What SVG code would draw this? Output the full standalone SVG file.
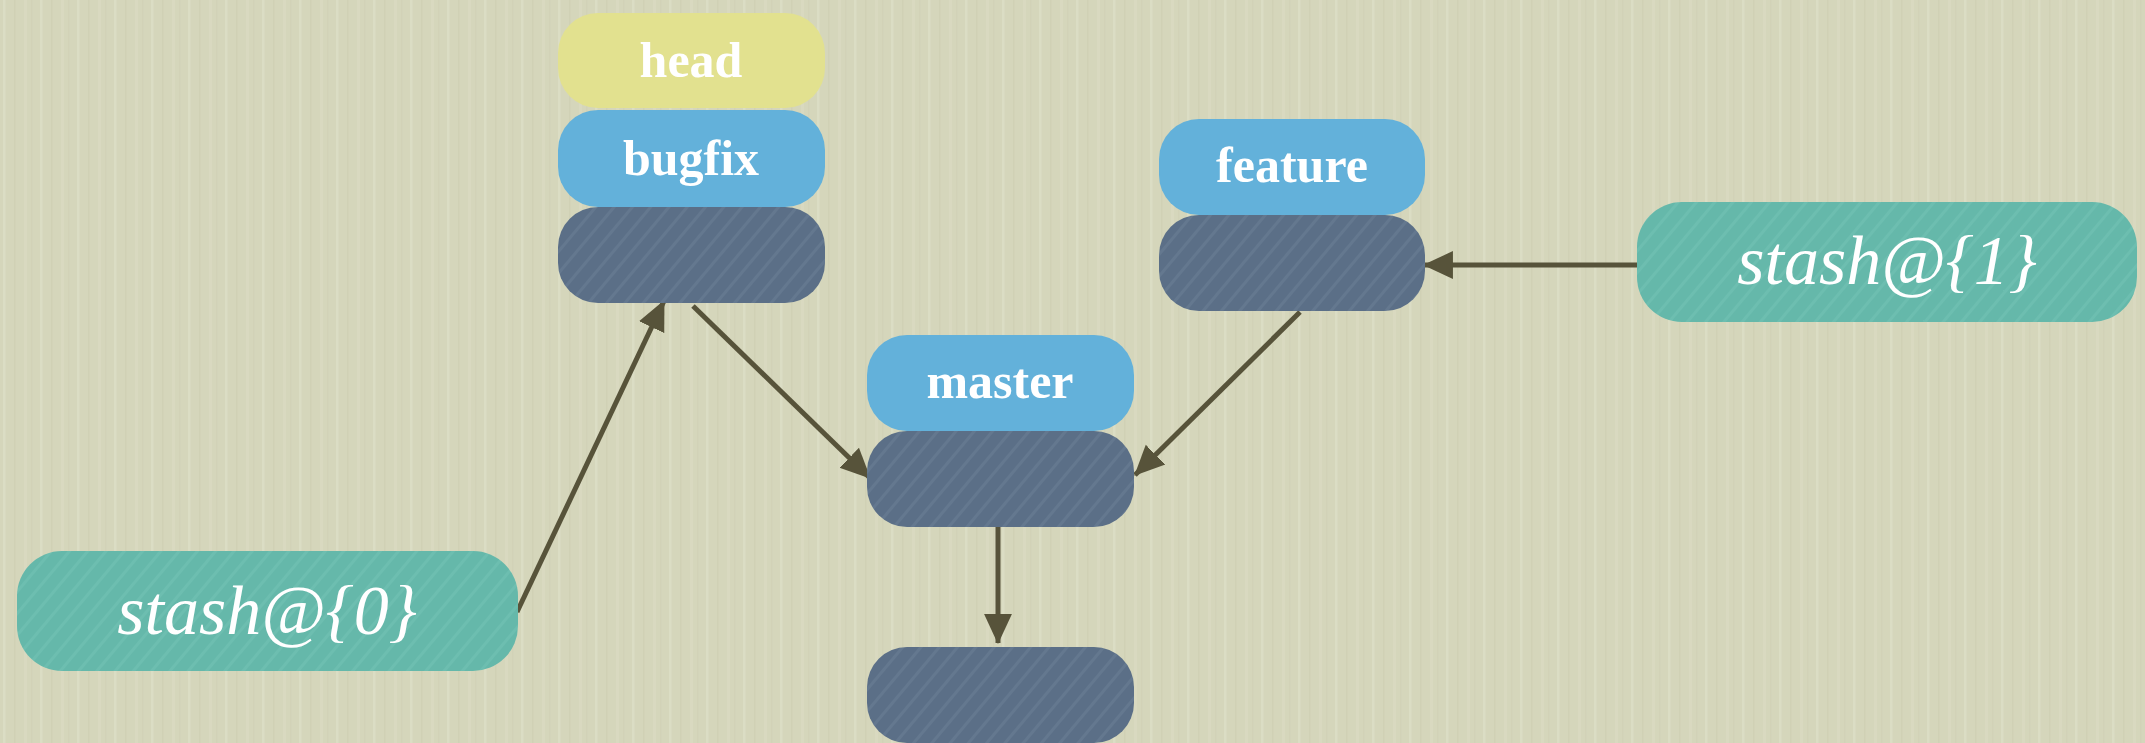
<svg xmlns="http://www.w3.org/2000/svg" width="2145" height="743" viewBox="0 0 2145 743">
<defs>
<pattern id="bgtex" width="37" height="743" patternUnits="userSpaceOnUse">
<rect width="37" height="743" fill="#d5d6bb"/>
<rect x="3" width="2.5" height="743" fill="#e0e1c9" opacity="0.6"/>
<rect x="14" width="1.5" height="743" fill="#cbccb0" opacity="0.5"/>
<rect x="24" width="3" height="743" fill="#dedfc6" opacity="0.45"/>
<rect x="31" width="1.5" height="743" fill="#cdceb2" opacity="0.4"/>
</pattern>
<pattern id="hatch" width="14" height="14" patternUnits="userSpaceOnUse" patternTransform="rotate(40)">
<rect width="14" height="14" fill="#5b6f87"/>
<rect width="3" height="14" fill="#6a7e95" opacity="0.6"/>
</pattern>
<pattern id="hatchT" width="14" height="14" patternUnits="userSpaceOnUse" patternTransform="rotate(40)">
<rect width="14" height="14" fill="#65b8aa"/>
<rect width="3" height="14" fill="#73c1b4" opacity="0.6"/>
</pattern>
<marker id="arr" markerUnits="userSpaceOnUse" markerWidth="30" markerHeight="30" viewBox="0 0 28 28" refX="27" refY="14" orient="auto">
<path d="M0,1 L28,14 L0,27 Z" fill="#57533a"/>
</marker>
<style>
.lbl{font-family:"Liberation Serif","DejaVu Serif",serif;font-weight:bold;font-size:50px;fill:#ffffff;text-anchor:middle}
.stash{font-family:"Liberation Serif","DejaVu Serif",serif;font-style:italic;font-size:70px;fill:#ffffff;text-anchor:middle}
.commit{fill:url(#hatch)}
.yellow{fill:#e2e18f}
.blue{fill:#63b1da}
.teal{fill:url(#hatchT)}
.edge{stroke:#57533a;stroke-width:5;fill:none;marker-end:url(#arr)}
</style>
</defs>
<rect width="2145" height="743" fill="url(#bgtex)"/>
<g id="connectors">
<line class="edge" x1="517" y1="612" x2="664" y2="301"/>
<line class="edge" x1="693" y1="306" x2="870" y2="478"/>
<line class="edge" x1="1300" y1="312" x2="1135" y2="475"/>
<line class="edge" x1="1637" y1="265" x2="1424" y2="265"/>
<line class="edge" x1="998" y1="525" x2="998" y2="643"/>
</g>
<g id="head">
<rect class="yellow" x="558" y="13" width="267" height="95" rx="40"/>
<text class="lbl" x="691" y="77">head</text>
</g>
<g id="bugfix">
<rect class="blue" x="558" y="110" width="267" height="97" rx="40"/>
<text class="lbl" x="691" y="175">bugfix</text>
</g>
<g id="commit-bugfix">
<rect class="commit" x="558" y="207" width="267" height="96" rx="40"/>
</g>
<g id="feature">
<rect class="blue" x="1159" y="119" width="266" height="96" rx="40"/>
<text class="lbl" x="1292" y="182">feature</text>
</g>
<g id="commit-feature">
<rect class="commit" x="1159" y="215" width="266" height="96" rx="40"/>
</g>
<g id="master">
<rect class="blue" x="867" y="335" width="267" height="96" rx="40"/>
<text class="lbl" x="1000" y="398">master</text>
</g>
<g id="commit-master">
<rect class="commit" x="867" y="431" width="267" height="96" rx="40"/>
</g>
<g id="commit-root">
<rect class="commit" x="867" y="647" width="267" height="96" rx="40"/>
</g>
<g id="stash0">
<rect class="teal" x="17" y="551" width="501" height="120" rx="45"/>
<text class="stash" x="267" y="634">stash@{0}</text>
</g>
<g id="stash1">
<rect class="teal" x="1637" y="202" width="500" height="120" rx="45"/>
<text class="stash" x="1887" y="284">stash@{1}</text>
</g>
</svg>
